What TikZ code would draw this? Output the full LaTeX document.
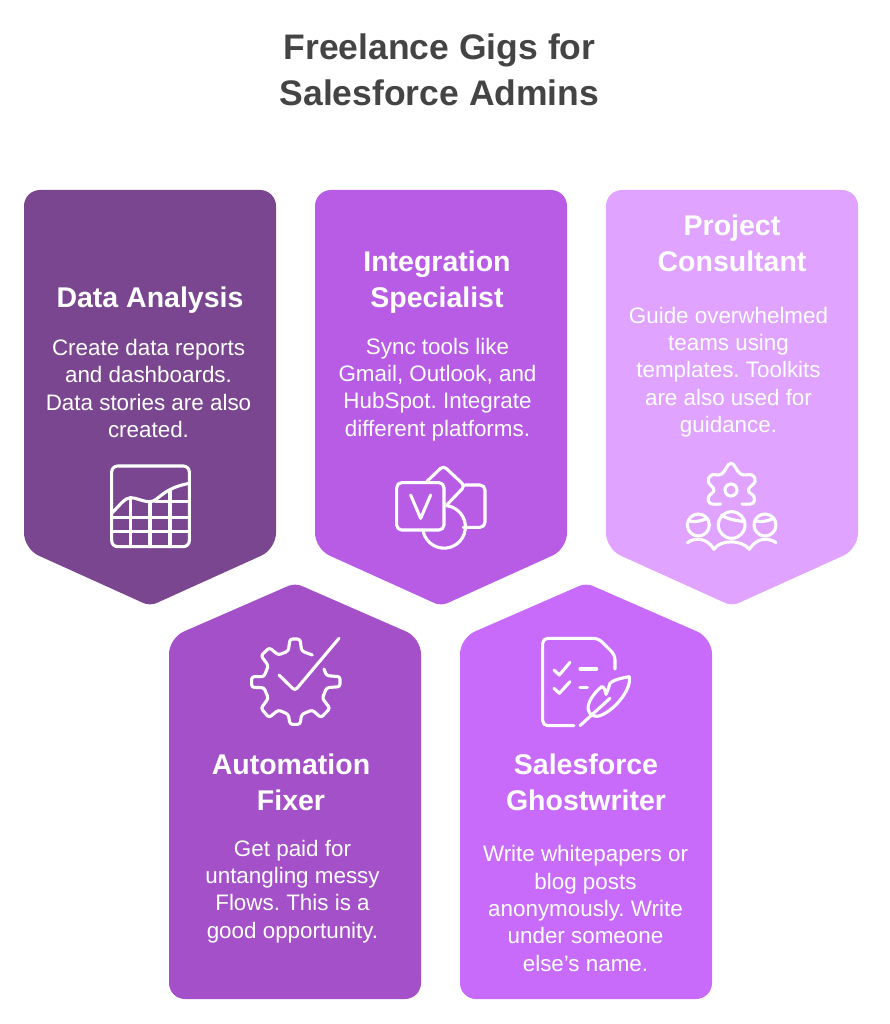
\documentclass[tikz,border=0pt]{standalone}
\usepackage{fontspec}
\setmainfont{Liberation Sans}
\frenchspacing
\definecolor{plumcard}{HTML}{7A4690}
\definecolor{violetcard}{HTML}{B85CE6}
\definecolor{lilaccard}{HTML}{E0A3FF}
\definecolor{purplecard}{HTML}{A450C8}
\definecolor{orchidcard}{HTML}{C96BFA}
\definecolor{titlegray}{HTML}{444444}
\tikzstyle{card}=[
    rounded corners=16pt,
  ]
\tikzstyle{heading}=[
    text=white,
    align=center,
    font=\fontsize{28.5}{36}\selectfont\bfseries,
  ]
\tikzstyle{body}=[
    text=white,
    align=center,
    font=\fontsize{22.4}{27.3}\selectfont,
  ]
\tikzstyle{icon}=[
    draw=white,
    line width=3.1pt,
    line cap=round,
    line join=round,
    x=0.3333pt,
    y=-0.3333pt,
  ]

\begin{document}
\begin{tikzpicture}[x=1pt, y=-1pt]
      \useasboundingbox (0,0) rectangle (890,1024);
      \node[text=titlegray, align=center, font=\fontsize{35.5}{46}\selectfont\bfseries] (title) at (439.5,70) {Freelance Gigs for\\Salesforce Admins};
      % cards pointing down
      \foreach \x/\col in {150/plumcard, 441/violetcard, 732/lilaccard} {%
        \fill[card, \col] (\x-126,190) -- (\x+126,190) -- (\x+126,549) [rounded corners=7pt] -- (\x,606) [rounded corners=16pt] -- (\x-126,549) -- cycle;
      }
      % cards pointing up
      \foreach \x/\col in {295/purplecard, 586/orchidcard} {%
        \fill[card, \col] (\x-126,999) -- (\x+126,999) -- (\x+126,638) [rounded corners=7pt] -- (\x,583) [rounded corners=16pt] -- (\x-126,638) -- cycle;
      }
      \node[heading] (dataHead) at (150,300) {Data Analysis};
      \node[body] (dataBody) at (148.5,388.5) {Create data reports\\and dashboards.\\Data stories are also\\created.};
      \node[heading] (integHead) at (437,282) {Integration\\Specialist};
      \node[body] (integBody) at (437.5,389.5) {Sync tools like\\Gmail, Outlook, and\\HubSpot. Integrate\\different platforms.};
      \node[heading] (projHead) at (732,243) {Project\\Consultant};
      \node[body] (projBody) at (728.5,372) {Guide overwhelmed\\teams using\\templates. Toolkits\\are also used for\\guidance.};
      \node[heading] (autoHead) at (291,782) {Automation\\Fixer};
      \node[body] (autoBody) at (292.5,891.5) {Get paid for\\untangling messy\\Flows. This is a\\good opportunity.};
      \node[heading] (ghostHead) at (586,782) {Salesforce\\Ghostwriter};
      \node[body] (ghostBody) at (585.5,908.5) {Write whitepapers or\\blog posts\\anonymously. Write\\under someone\\else's name.};
      % chart icon
      \begin{scope}[shift={(90,450)}, icon]
        \draw[rounded corners=6pt] (65,48) rectangle (298,290);
        \draw (65,190) .. controls (90,165) and (105,143) .. (122,143) .. controls (140,143) and (155,155) .. (180,155) .. controls (205,155) and (215,115) .. (298,100);
        \foreach \gx/\gy in {122/143, 180/155, 240/122} {%
          \draw (\gx,\gy) -- (\gx,290);
        }
        \draw (195,155) -- (298,155);
        \draw (65,203) -- (298,203);
        \draw (65,245) -- (298,245);
      \end{scope}
      % app icon
      \begin{scope}[shift={(380,450)}, icon]
        \draw[rounded corners=5pt] (50,98) rectangle (192,240);
        \draw (92,135) -- (122,205) -- (152,135);
        \draw[rounded corners=4pt] (140,95) -- (190,47) -- (255,108) -- (200,165);
        \draw[rounded corners=5pt] (255,105) -- (315,105) -- (315,232) -- (250,232);
        \draw (200,167) arc[start angle=-83, end angle=171, radius=64];
      \end{scope}
      % team icon
      \begin{scope}[shift={(670,450)}, icon]
        \draw plot[smooth, tension=0.75] coordinates {(152,162) (120,160) (116,140) (132,120) (115,95) (125,75) (155,72) (183,40) (212,72) (245,75) (255,95) (235,120) (252,140) (248,160) (216,162)};
        \draw (183,120) circle[radius=18];
        \foreach \px/\pr in {85/33, 185/40, 285/33} {%
          \draw (\px,225) circle[radius=\pr];
        }
        \draw (58,213) .. controls (75,218) and (95,212) .. (112,205);
        \draw (155,195) .. controls (175,210) and (205,212) .. (224,215);
        \draw (258,213) .. controls (275,218) and (295,212) .. (312,205);
        \draw (52,278) .. controls (75,262) and (110,262) .. (132,298) .. controls (150,268) and (215,268) .. (238,298) .. controls (260,262) and (295,262) .. (318,278);
      \end{scope}
      % gear icon
      \begin{scope}[shift={(235,625)}, icon]
        \draw[rounded corners=2.5pt] (232,90) -- (200,78) -- (195,42) -- (165,42) -- (160,78) -- (130,90) -- (103,68) -- (78,92) -- (100,122) -- (87,155) -- (50,155) -- (50,187) -- (87,188) -- (100,220) -- (78,250) -- (102,278) -- (130,255) -- (160,268) -- (165,298) -- (195,298) -- (200,268) -- (232,255) -- (258,278) -- (285,250) -- (262,220) -- (275,188) -- (315,185) -- (315,155) -- (275,152) -- (267,132);
        \draw[rounded corners=3pt] (132,150) -- (180,197) -- (312,40);
      \end{scope}
      % document icon
      \begin{scope}[shift={(530,625)}, icon]
        \draw[rounded corners=5pt] (132,302) -- (38,302) -- (38,40) -- (205,40) -- (255,90) -- (255,132);
        \draw (72,135) -- (88,150) -- (120,112);
        \draw (72,190) -- (88,205) -- (120,170);
        \draw (150,132) -- (200,132);
        \draw (150,188) -- (172,188);
        \draw (150,302) -- (240,220);
        \draw (298,155) .. controls (270,160) and (250,165) .. (240,175) .. controls (235,190) and (232,200) .. (228,208) .. controls (225,195) and (222,185) .. (215,185) .. controls (190,205) and (170,235) .. (175,255) .. controls (178,270) and (195,280) .. (215,270) .. controls (260,250) and (305,190) .. (298,155);
      \end{scope}
\end{tikzpicture}
\end{document}
